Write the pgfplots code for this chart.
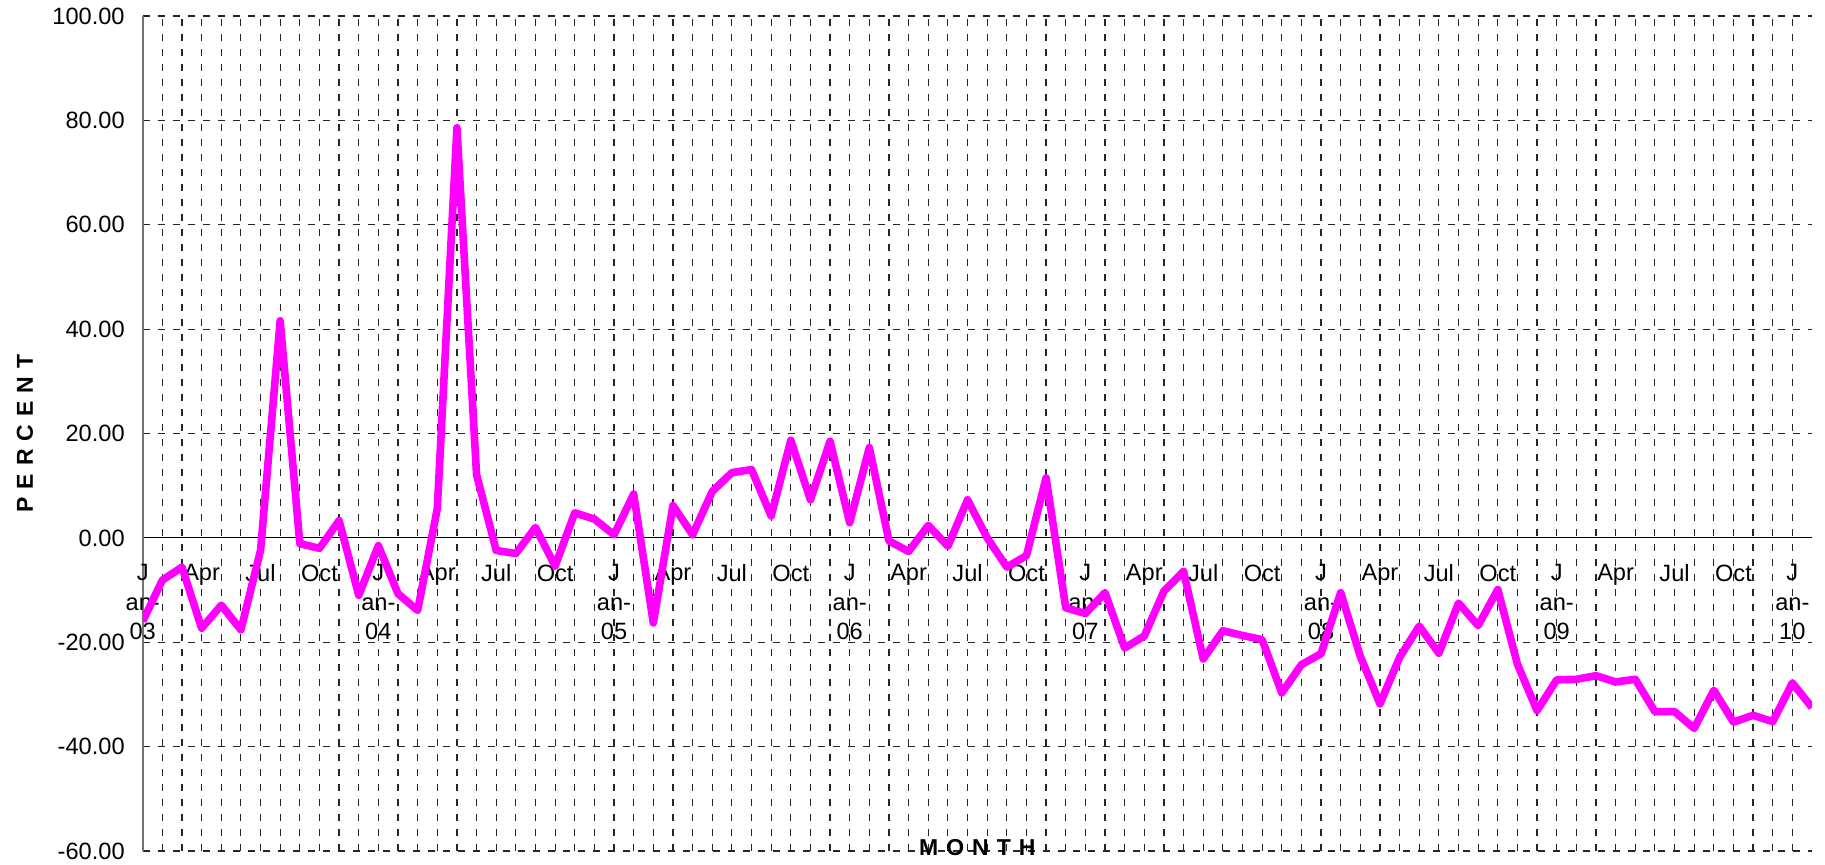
\documentclass[border=0pt]{standalone}
\usepackage{fontspec}
\setmainfont{Liberation Sans}
\usepackage{pgfplots}
\pgfplotsset{compat=1.18}
\definecolor{mag}{HTML}{FF00FF}
\newcommand{\lsp}{\hspace{4pt}}
\begin{document}
\begin{tikzpicture}
\useasboundingbox (-71.35pt,-6.5pt) rectangle (841.15pt,425.5pt);
\begin{axis}[
  at={(0,0)}, anchor=south west,
  scale only axis, width=834.65pt, height=417.5pt,
  xmin=0, xmax=85, ymin=-60, ymax=100,
  enlargelimits=false,
  axis x line=middle, axis y line=left,
  axis line style={-},
  x axis line style={black, line width=0.6pt},
  y axis line style={black!55, line width=0.9pt},
  hide obscured x ticks=false, hide obscured y ticks=false,
  xtick={0,3,...,84},
  xticklabels={{J\\an-\\03},Apr,Jul,Oct,{J\\an-\\04},Apr,Jul,Oct,{J\\an-\\05},Apr,Jul,Oct,{J\\an-\\06},Apr,Jul,Oct,{J\\an-\\07},Apr,Jul,Oct,{J\\an-\\08},Apr,Jul,Oct,{J\\an-\\09},Apr,Jul,Oct,{J\\an-\\10}},
  minor x tick num=2,
  ytick={-60,-40,...,100},
  major tick length=0pt, minor tick length=0pt,
  xmajorgrids, xminorgrids, ymajorgrids,
  major grid style={black!85, line width=0.6pt, dash pattern=on 3.5pt off 4pt},
  minor grid style={black!85, line width=0.6pt, dash pattern=on 3.5pt off 4pt},
  yticklabel style={font=\fontsize{11.8pt}{14pt}\selectfont, anchor=east, xshift=-5.5pt},
  xticklabel style={font=\fontsize{11.8pt}{14.75pt}\selectfont, align=center, anchor=north, yshift=-9.8pt},
  /pgf/number format/fixed, /pgf/number format/fixed zerofill,
  /pgf/number format/precision=2, /pgf/number format/assume math mode=true,
  xlabel={M\lsp O\lsp N\lsp T\lsp H},
  ylabel={P\lsp E\lsp R\lsp C\lsp E\lsp N\lsp T},
  every axis x label/.style={at={(axis description cs:0.5,0.0036)}, anchor=center, font=\bfseries\fontsize{11.5pt}{13pt}\selectfont},
  every axis y label/.style={at={(axis description cs:-0.0705,0.5)}, anchor=center, rotate=90, font=\bfseries\fontsize{11.5pt}{13pt}\selectfont},
]
\addplot[mag, line width=3.8pt, line join=round, mark=none] table {
x y
0 -16.0
1 -8.1
2 -5.6
3 -17.3
4 -12.9
5 -17.6
6 -2.4
7 41.6
8 -1.1
9 -2.0
10 3.3
11 -11.0
12 -1.5
13 -10.7
14 -13.9
15 5.6
16 78.6
17 12.1
18 -2.4
19 -3.0
20 2.0
21 -5.4
22 4.8
23 3.6
24 0.6
25 8.4
26 -16.3
27 6.2
28 0.6
29 8.9
30 12.5
31 13.1
32 4.2
33 18.7
34 7.3
35 18.5
36 2.9
37 17.3
38 -0.6
39 -2.6
40 2.4
41 -1.6
42 7.3
43 0.0
44 -5.6
45 -3.4
46 11.5
47 -13.4
48 -14.5
49 -10.5
50 -21.1
51 -18.8
52 -10.2
53 -6.4
54 -23.2
55 -17.8
56 -18.7
57 -19.5
58 -29.7
59 -24.3
60 -22.2
61 -10.5
62 -22.7
63 -31.8
64 -22.9
65 -16.9
66 -22.1
67 -12.5
68 -16.8
69 -9.9
70 -24.2
71 -33.1
72 -27.2
73 -27.1
74 -26.4
75 -27.6
76 -27.1
77 -33.3
78 -33.3
79 -36.5
80 -29.2
81 -35.3
82 -34.0
83 -35.2
84 -27.8
85 -32.5
};
\end{axis}
\end{tikzpicture}
\end{document}
